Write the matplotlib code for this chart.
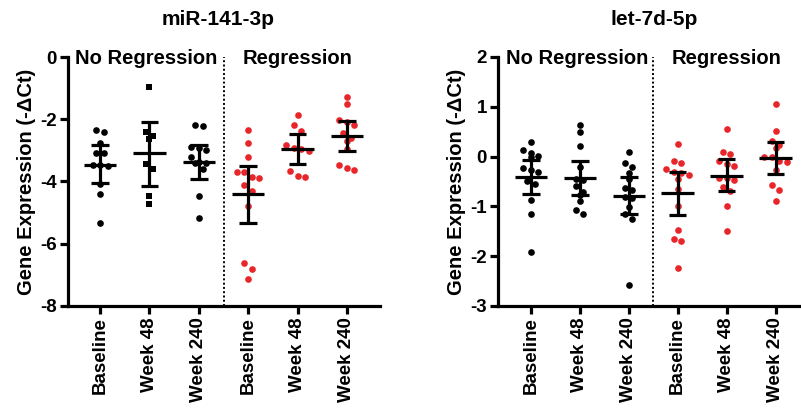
import matplotlib.pyplot as plt
import numpy as np

plt.rcParams['font.family'] = ['Liberation Sans', 'DejaVu Sans']
plt.rcParams['font.weight'] = 'bold'
plt.rcParams['axes.unicode_minus'] = False

groups = ['Baseline', 'Week 48', 'Week 240', 'Baseline', 'Week 48', 'Week 240']

# miR-141-3p: No Regression (3 time points) then Regression (3 time points)
mir141_vals = [
    [-2.36, -2.41, -2.75, -3.07, -3.09, -3.46, -3.49, -3.46, -4.07, -4.39, -5.34],
    [-0.95, -2.40, -2.55, -2.64, -3.45, -3.60, -4.48, -4.72],
    [-2.20, -2.23, -2.88, -2.93, -3.00, -3.22, -3.38, -3.40, -3.42, -3.60, -4.48, -5.18],
    [-2.36, -2.77, -3.20, -3.71, -3.70, -3.89, -3.87, -4.11, -4.29, -4.78, -6.62, -6.80, -7.12],
    [-1.86, -2.20, -2.37, -2.82, -2.95, -3.01, -2.93, -3.67, -3.85, -3.83],
    [-1.27, -1.51, -2.10, -2.20, -2.02, -2.43, -2.60, -2.70, -2.97, -3.46, -3.62, -3.57],
]
mir141_mean = [-3.46, -3.09, -3.38, -4.41, -2.95, -2.53]
mir141_hi = [-2.84, -2.08, -2.82, -3.49, -2.47, -2.05]
mir141_lo = [-4.05, -4.13, -3.91, -5.33, -3.43, -3.02]

# let-7d-5p
let7d_vals = [
    [0.30, 0.13, 0.08, 0.02, 0.00, -0.23, -0.27, -0.30, -0.50, -0.55, -0.88, -1.15, -1.92],
    [0.64, 0.50, 0.22, -0.21, -0.45, -0.47, -0.60, -0.72, -0.77, -0.90, -1.16, -1.08],
    [0.10, -0.12, -0.20, -0.32, -0.63, -0.68, -0.81, -0.83, -1.02, -1.16, -1.26, -2.58, -0.45],
    [0.26, -0.08, -0.13, -0.25, -0.31, -0.36, -0.33, -0.44, -0.65, -1.00, -1.47, -1.65, -1.70, -2.24],
    [0.56, 0.09, 0.06, -0.09, -0.14, -0.19, -0.43, -0.42, -0.47, -0.61, -0.69, -0.99, -1.50],
    [1.06, 0.52, 0.31, 0.24, 0.17, 0.00, -0.08, -0.10, -0.01, -0.27, -0.57, -0.67, -0.89],
]
let7d_mean = [-0.40, -0.43, -0.79, -0.74, -0.38, -0.02]
let7d_hi = [-0.06, -0.08, -0.41, -0.30, -0.05, 0.30]
let7d_lo = [-0.75, -0.77, -1.16, -1.17, -0.69, -0.34]

RED = '#e8262a'


def swarm(vals, px_per_unit, step, min_px=6.0):
    # GraphPad-like: points close in y share a row and spread sideways
    vals = np.asarray(vals)
    order = np.argsort(-vals)
    xs = np.zeros(len(vals))
    rows = []
    for i in order:
        if rows and abs(vals[rows[-1][0]] - vals[i]) * px_per_unit < min_px:
            rows[-1].append(i)
        else:
            rows.append([i])
    for r in rows:
        n = len(r)
        for k, i in enumerate(r):
            xs[i] = (k - (n - 1) / 2) * step
    return xs


def panel(ax, title, title_x, vals, mean, hi, lo, ylim, yticks, xlim, squares=()):
    ax.set_xlim(*xlim)
    ax.set_ylim(*ylim)
    bb = ax.get_position()
    fig_w, fig_h = ax.figure.get_size_inches() * ax.figure.dpi
    px_y = bb.height * fig_h / (ylim[1] - ylim[0])
    px_x = bb.width * fig_w / (xlim[1] - xlim[0])
    step = 7.5 / px_x

    for i, v in enumerate(vals):
        col = 'black' if i < 3 else RED
        mk = 's' if i in squares else 'o'
        xs = i + swarm(v, px_y, step)
        ax.scatter(xs, v, s=23, marker=mk, color=col, linewidths=0, zorder=3)
        ax.hlines(mean[i], i - 0.33, i + 0.33, color='black', lw=2.3, zorder=4)
        ax.vlines(i, lo[i], hi[i], color='black', lw=2.3, zorder=4)
        ax.hlines([lo[i], hi[i]], i - 0.18, i + 0.18, color='black', lw=2.3, zorder=4)

    ax.plot([2.5, 2.5], ylim, color='black', lw=1.4, ls=(0, (1, 1.2)), clip_on=False)

    for sp in ['top', 'right']:
        ax.spines[sp].set_visible(False)
    for sp in ['left', 'bottom']:
        ax.spines[sp].set_linewidth(2.3)

    ax.set_yticks(yticks)
    ax.set_xticks(range(len(groups)))
    ax.set_xticklabels(groups, rotation=90)
    ax.tick_params(length=6, width=2.3, labelsize=13.5, pad=2)
    for lab in ax.get_xticklabels() + ax.get_yticklabels():
        lab.set_fontweight('bold')

    ax.set_ylabel('Gene Expression (-ΔCt)', fontsize=14.5, fontweight='bold', labelpad=3)

    for x, txt in [(0.94, 'No Regression'), (4.0, 'Regression')]:
        ax.annotate(txt, xy=(x, ylim[1]), xytext=(0, -5), textcoords='offset points',
                    ha='center', va='baseline', fontsize=14.5, fontweight='bold',
                    annotation_clip=False)

    ax.text(title_x, 1 + 37 / (bb.height * fig_h), title, transform=ax.transAxes,
            ha='center', va='center', fontsize=15, fontweight='bold')


fig = plt.figure(figsize=(8.01, 4.11), dpi=100)
ax1 = fig.add_axes([68 / 801, 1 - 306 / 411, 312 / 801, 249 / 411])
ax2 = fig.add_axes([498 / 801, 1 - 306 / 411, 303 / 801, 249 / 411])

panel(ax1, 'miR-141-3p', 0.48, mir141_vals, mir141_mean, mir141_hi, mir141_lo,
      (-8, 0), [0, -2, -4, -6, -8], (-0.65, 5.67), squares=(1,))
panel(ax2, 'let-7d-5p', 0.515, let7d_vals, let7d_mean, let7d_hi, let7d_lo,
      (-3, 2), [2, 1, 0, -1, -2, -3], (-0.67, 5.52))

fig.savefig('out.png', dpi=100)
